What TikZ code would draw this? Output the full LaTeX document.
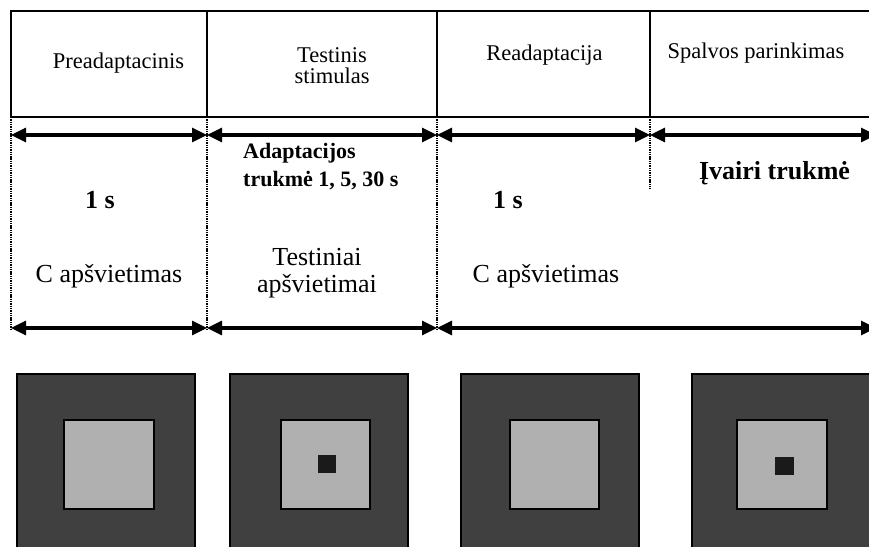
\documentclass[tikz,border=0pt]{standalone}
\usepackage{fontspec}
\setmainfont{Liberation Serif}
\usetikzlibrary{arrows.meta}
\definecolor{outergray}{HTML}{404040}
\definecolor{innergray}{HTML}{B0B0B0}
\definecolor{targetgray}{HTML}{1A1A1A}
\begin{document}
\begin{tikzpicture}[x=1pt,y=-1pt,
  hdr/.style={font=\fontsize{22.5}{21}\selectfont, align=center, anchor=base, inner sep=0pt},
  body/.style={font=\fontsize{26}{27}\selectfont, align=center, anchor=base, inner sep=0pt},
  boldlbl/.style={font=\fontsize{26}{30}\selectfont\bfseries, anchor=base, inner sep=0pt},
  boldsmall/.style={font=\fontsize{22}{28}\selectfont\bfseries, align=left, anchor=base west, inner sep=0pt},
  dim/.style={line width=3.2pt, {Triangle[length=15pt,width=14pt]}-{Triangle[length=15pt,width=14pt]}},
  guide/.style={line width=1.8pt, dash pattern=on 1.4pt off 0.9pt},
  frame/.style={line width=1.4pt},
  outersq/.style={draw=black, line width=1.3pt, fill=outergray},
  innersq/.style={draw=black, line width=1.3pt, fill=innergray},
  targetsq/.style={fill=targetgray}]
\useasboundingbox (0,0) rectangle (869,546);
\clip (0,0) rectangle (869,546);
% header frame
\coordinate (tl) at (11,11);
\coordinate (bl) at (11,117);
\coordinate (tr) at (875,11);
\coordinate (br) at (875,117);
\coordinate (d1t) at (207,11); \coordinate (d1b) at (207,117);
\coordinate (d2t) at (437,11); \coordinate (d2b) at (437,117);
\coordinate (d3t) at (650,11); \coordinate (d3b) at (650,117);
\draw[frame] (tr) -- (tl) -- (bl) -- (br);
\draw[frame] (d1t) -- (d1b);
\draw[frame] (d2t) -- (d2b);
\draw[frame] (d3t) -- (d3b);
% header texts
\node[hdr] (h1) at (118.5,68) {Preadaptacinis};
\node[hdr] (h2) at (332,83) {Testinis\\stimulas};
\node[hdr] (h3) at (544.5,60) {Readaptacija};
\node[hdr] (h4) at (756,58) {Spalvos parinkimas};
% guide lines
\coordinate (g0b) at (11,329);
\coordinate (g1b) at (207,329);
\coordinate (g2b) at (437,329);
\coordinate (g3b) at (650,189);
\draw[guide] (bl) -- (g0b);
\draw[guide] (d1b) -- (g1b);
\draw[guide] (d2b) -- (g2b);
\draw[guide] (d3b) -- (g3b);
% upper dimension arrows
\coordinate (a0) at (11,135);
\coordinate (a1) at (207,135);
\coordinate (a2) at (437,135);
\coordinate (a3) at (650,135);
\coordinate (a4) at (876,135);
\draw[dim] (a0) -- (a1);
\draw[dim] (a1) -- (a2);
\draw[dim] (a2) -- (a3);
\draw[dim] (a3) -- (a4);
% lower dimension arrows
\coordinate (b0) at (11,328);
\coordinate (b1) at (207,328);
\coordinate (b2) at (437,328);
\coordinate (b4) at (876,328);
\draw[dim] (b0) -- (b1);
\draw[dim] (b1) -- (b2);
\draw[dim] (b2) -- (b4);
% lower texts
\node[boldlbl] (s1) at (100,208) {1 s};
\node[body] (c1) at (109,282) {C apšvietimas};
\node[boldsmall] (adapt) at (243,186) {Adaptacijos\\trukmė 1, 5, 30 s};
\node[body] (t2) at (317,292) {Testiniai\\apšvietimai};
\node[boldlbl] (s3) at (508,208) {1 s};
\node[body] (c3) at (546,282) {C apšvietimas};
\node[boldlbl] (iv) at (774.5,179) {Įvairi trukmė};
% stimulus squares
\draw[outersq] (17,374) rectangle (195,560);
\draw[innersq] (64,420) rectangle (154,509);
\draw[outersq] (230,374) rectangle (408,560);
\draw[innersq] (281,420) rectangle (370,509);
\fill[targetsq] (318,455) rectangle (336,473);
\draw[outersq] (461,374) rectangle (639,560);
\draw[innersq] (510,420) rectangle (599,509);
\draw[outersq] (692,374) rectangle (875,560);
\draw[innersq] (737,420) rectangle (827,509);
\fill[targetsq] (775,457) rectangle (794,475);
\end{tikzpicture}
\end{document}
